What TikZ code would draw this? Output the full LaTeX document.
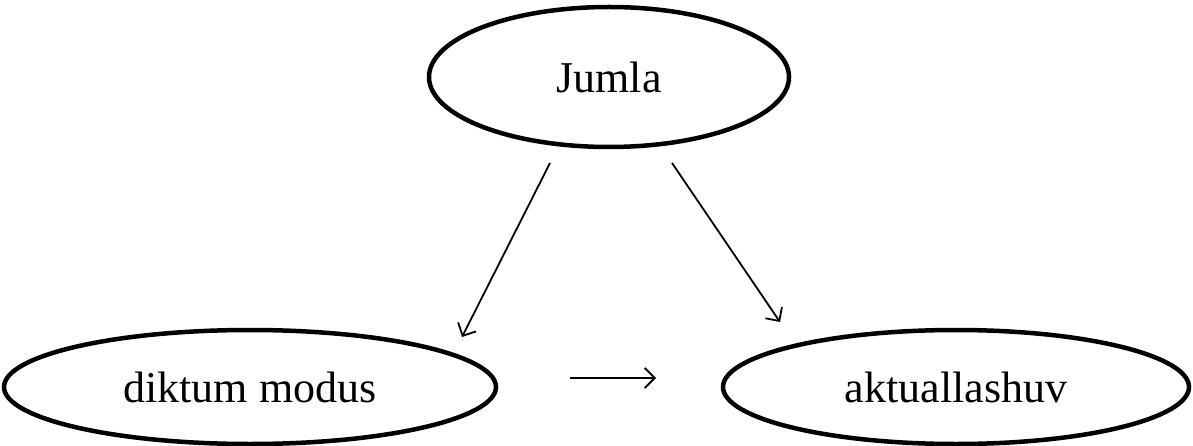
\documentclass[tikz,border=0pt]{standalone}
\usepackage{fontspec}
\setmainfont{Liberation Serif}
\usetikzlibrary{shapes.geometric,arrows.meta}
\tikzset{
  oval/.style={draw, line width=4.5pt, ellipse, inner sep=0pt, font=\fontsize{44}{50}\selectfont},
  link/.style={line width=1.8pt, -{Straight Barb[length=10pt,width=20pt,line width=1.8pt]}}
}
\begin{document}
\begin{tikzpicture}[x=1pt,y=-1pt]
\useasboundingbox (0,0) rectangle (1193,446);
\node[oval, minimum width=360pt, minimum height=140pt] (J) at (609,77) {Jumla};
\node[oval, minimum width=492pt, minimum height=114pt] (D) at (250,387) {diktum modus};
\node[oval, minimum width=466pt, minimum height=114pt] (A) at (956,387) {aktuallashuv};
\coordinate (j1) at (550,163);
\coordinate (d1) at (462,337);
\coordinate (j2) at (672,163);
\coordinate (a1) at (780,322);
\coordinate (h1) at (570,378);
\coordinate (h2) at (656,378);
\draw[link] (j1) -- (d1);
\draw[link] (j2) -- (a1);
\draw[link] (h1) -- (h2);
\end{tikzpicture}
\end{document}
